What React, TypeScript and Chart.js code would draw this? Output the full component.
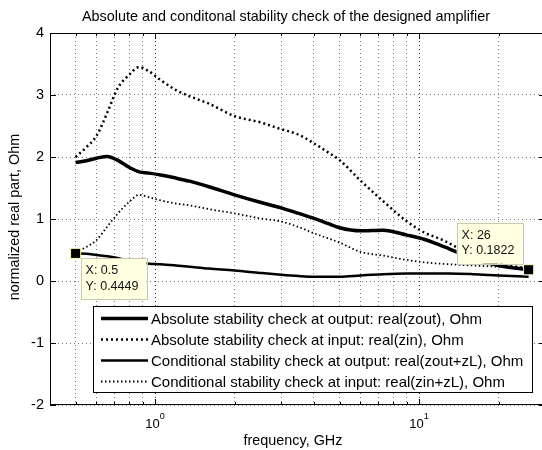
import React, { useEffect, useRef } from "react";
import { Chart, registerables } from "chart.js";

Chart.register(...registerables);

const FONT = '"Liberation Sans", Arial, Helvetica, sans-serif';

const titleText = "Absolute and conditonal stability check of the designed amplifier";
const xLabel = "frequency, GHz";
const yLabel = "normalized real part, Ohm";

const seriesLabels = [
  "Absolute stability check at output: real(zout), Ohm",
  "Absolute stability check at input: real(zin), Ohm",
  "Conditional stability check at output: real(zout+zL), Ohm",
  "Conditional stability check at input: real(zin+zL), Ohm",
];

// frequency in GHz
const frequencies = [0.5, 0.55, 0.6, 0.66, 0.72, 0.8, 0.87, 0.95, 1.05, 1.2, 1.35, 1.6, 2, 2.5, 3, 3.5, 4, 4.5, 5, 6, 7.3, 9, 10.5, 12, 13, 16, 20, 26];

const absOutput = [1.91, 1.94, 1.98, 2.01, 1.95, 1.83, 1.76, 1.74, 1.71, 1.66, 1.61, 1.52, 1.39, 1.27, 1.18, 1.09, 1.01, 0.93, 0.86, 0.81, 0.82, 0.74, 0.67, 0.58, 0.52, 0.36, 0.25, 0.1822];
const absInput = [2.0, 2.16, 2.34, 2.72, 3.1, 3.33, 3.45, 3.38, 3.24, 3.08, 2.98, 2.86, 2.66, 2.56, 2.45, 2.36, 2.22, 2.08, 1.95, 1.62, 1.29, 0.96, 0.78, 0.68, 0.61, 0.4, 0.28, 0.2];
const condOutput = [0.4449, 0.44, 0.42, 0.4, 0.37, 0.32, 0.3, 0.28, 0.27, 0.25, 0.23, 0.2, 0.17, 0.13, 0.1, 0.08, 0.07, 0.07, 0.07, 0.09, 0.11, 0.12, 0.12, 0.12, 0.12, 0.11, 0.09, 0.07];
const condInput = [0.46, 0.55, 0.66, 0.88, 1.08, 1.28, 1.39, 1.35, 1.3, 1.25, 1.22, 1.16, 1.09, 1.01, 0.96, 0.87, 0.77, 0.69, 0.62, 0.47, 0.41, 0.34, 0.3, 0.28, 0.27, 0.25, 0.23, 0.21];

const xGridTicks = [0.5, 0.6, 0.7, 0.8, 0.9, 1, 2, 3, 4, 5, 6, 7, 8, 9, 10, 20];
const xDecadeTicks = [1, 10];
const xDecadeExponents = ["0", "1"];
const yTicks = [-2, -1, 0, 1, 2, 3, 4];

const tipX = [0.5, 26];
const tipY = [0.4449, 0.1822];
const tipXText = ["X: 0.5", "X: 26"];
const tipYText = ["Y: 0.4449", "Y: 0.1822"];

const seriesValues = [absOutput, absInput, condOutput, condInput];
const seriesWidths = [3.5, 2.5, 2.5, 1.8];
const seriesDashes: number[][] = [[], [2, 3], [], [1.5, 2.5]];

const overlayPlugin = {
  id: "overlay",
  afterDraw(chart: any) {
    const { ctx, chartArea: ca, scales } = chart;
    const xs = scales.x;
    const ys = scales.y;
    ctx.save();

    // axes box
    ctx.strokeStyle = "#000";
    ctx.lineWidth = 1;
    ctx.setLineDash([]);
    ctx.strokeRect(ca.left + 0.5, ca.top + 0.5, ca.right - ca.left - 1, ca.bottom - ca.top - 1);

    // inner tick marks
    ctx.beginPath();
    for (const v of xGridTicks) {
      const px = Math.round(xs.getPixelForValue(v)) + 0.5;
      const len = xDecadeTicks.includes(v) ? 6 : 3;
      ctx.moveTo(px, ca.bottom);
      ctx.lineTo(px, ca.bottom - len);
      ctx.moveTo(px, ca.top);
      ctx.lineTo(px, ca.top + len);
    }
    for (const v of yTicks) {
      const py = Math.round(ys.getPixelForValue(v)) + 0.5;
      ctx.moveTo(ca.left, py);
      ctx.lineTo(ca.left + 6, py);
      ctx.moveTo(ca.right, py);
      ctx.lineTo(ca.right - 6, py);
    }
    ctx.stroke();

    ctx.fillStyle = "#000";

    // x decade labels 10^n
    xDecadeTicks.forEach((v, i) => {
      const px = xs.getPixelForValue(v);
      ctx.font = `13px ${FONT}`;
      const w10 = ctx.measureText("10").width;
      ctx.font = `9px ${FONT}`;
      const we = ctx.measureText(xDecadeExponents[i]).width;
      const start = px - (w10 + we) / 2;
      ctx.textAlign = "left";
      ctx.textBaseline = "alphabetic";
      ctx.font = `13px ${FONT}`;
      ctx.fillText("10", start, ca.bottom + 23);
      ctx.font = `9px ${FONT}`;
      ctx.fillText(xDecadeExponents[i], start + w10, ca.bottom + 14);
    });

    // title
    ctx.font = `14.4px ${FONT}`;
    ctx.textAlign = "center";
    ctx.textBaseline = "alphabetic";
    ctx.fillText(titleText, 286, 21);

    // x label
    ctx.font = `14.4px ${FONT}`;
    ctx.fillText(xLabel, 293, 445);

    // y label
    ctx.save();
    ctx.translate(19, (ca.top + ca.bottom) / 2 - 2);
    ctx.rotate(-Math.PI / 2);
    ctx.textBaseline = "alphabetic";
    ctx.fillText(yLabel, 0, 0);
    ctx.restore();

    // legend
    const lx = 93, ly = 306, lw = 439, lh = 86;
    ctx.fillStyle = "#fff";
    ctx.fillRect(lx, ly, lw, lh);
    ctx.strokeStyle = "#000";
    ctx.lineWidth = 1;
    ctx.setLineDash([]);
    ctx.strokeRect(lx + 0.5, ly + 0.5, lw, lh);
    chart.data.datasets.forEach((ds: any, i: number) => {
      const cy = ly + 12.5 + i * 21;
      ctx.save();
      ctx.strokeStyle = "#000";
      ctx.lineWidth = ds.borderWidth;
      ctx.setLineDash(ds.borderDash || []);
      ctx.beginPath();
      ctx.moveTo(lx + 8, cy);
      ctx.lineTo(lx + 55, cy);
      ctx.stroke();
      ctx.restore();
      ctx.fillStyle = "#000";
      ctx.font = `15px ${FONT}`;
      ctx.textAlign = "left";
      ctx.textBaseline = "middle";
      ctx.fillText(ds.label, lx + 58, cy + 1);
    });

    // data tips
    tipX.forEach((xv, i) => {
      const mx = xs.getPixelForValue(xv);
      const my = ys.getPixelForValue(tipY[i]);
      const bw = 66, bh = 41;
      const bx = i === 0 ? mx + 5 : mx - 6 - bw;
      const by = i === 0 ? my + 5 : my - 6 - bh;
      ctx.fillStyle = "#ffffe1";
      ctx.fillRect(bx, by, bw, bh);
      ctx.strokeStyle = "#c9c9b0";
      ctx.lineWidth = 1;
      ctx.strokeRect(Math.round(bx) + 0.5, Math.round(by) + 0.5, bw, bh);
      ctx.fillStyle = "#111";
      ctx.font = `12.5px ${FONT}`;
      ctx.textAlign = "left";
      ctx.textBaseline = "middle";
      ctx.fillText(tipXText[i], bx + 5, by + 12.5);
      ctx.fillText(tipYText[i], bx + 5, by + 28);
      // marker
      ctx.fillStyle = "#f4f0b0";
      ctx.fillRect(mx - 5.5, my - 5.5, 11, 11);
      ctx.fillStyle = "#000";
      ctx.fillRect(mx - 4.5, my - 4.5, 9, 9);
    });

    ctx.restore();
  },
};

export default function App() {
  const ref = useRef<HTMLCanvasElement | null>(null);

  useEffect(() => {
    if (!ref.current) return;
    const datasets = seriesValues.map((vals, i) => ({
      label: seriesLabels[i],
      data: frequencies.map((f, j) => ({ x: f, y: vals[j] })),
      borderColor: "#000",
      backgroundColor: "#000",
      borderWidth: seriesWidths[i],
      borderDash: seriesDashes[i],
      pointRadius: 0,
      fill: false,
      cubicInterpolationMode: "monotone" as const,
    }));

    const gridColor = (c: any) =>
      c.tick && xDecadeTicks.includes(c.tick.value) ? "#333" : "#7a7a7a";

    const chart = new Chart(ref.current, {
      type: "line",
      data: { datasets },
      options: {
        animation: false,
        responsive: false,
        devicePixelRatio: 1,
        layout: { padding: { top: 33, right: 15, left: 0, bottom: 0 } },
        plugins: {
          legend: { display: false },
          title: { display: false },
          tooltip: { enabled: false },
        },
        scales: {
          x: {
            type: "logarithmic",
            min: 0.4,
            max: 30,
            position: "bottom",
            afterBuildTicks: (s: any) => {
              s.ticks = xGridTicks.map((v) => ({ value: v }));
            },
            afterFit: (s: any) => {
              s.height = 45;
            },
            ticks: { display: false },
            grid: { color: gridColor, lineWidth: 1, drawTicks: false },
            border: { display: false, dash: [1, 3] },
          },
          y: {
            type: "linear",
            min: -2,
            max: 4,
            afterBuildTicks: (s: any) => {
              s.ticks = yTicks.map((v) => ({ value: v }));
            },
            afterFit: (s: any) => {
              s.width = 50;
            },
            ticks: {
              color: "#000",
              padding: 6,
              font: { family: FONT, size: 14.5 },
              callback: (v: any) => String(v),
            },
            grid: { color: "#7a7a7a", lineWidth: 1, drawTicks: false },
            border: { display: false, dash: [1, 3] },
          },
        },
      },
      plugins: [overlayPlugin],
    });
    return () => chart.destroy();
  }, []);

  return (
    <div
      style={{
        position: "fixed",
        left: 0,
        top: 0,
        width: 542,
        height: 450,
        overflow: "hidden",
        background: "#fff",
      }}
    >
      <canvas ref={ref} width={560} height={450} style={{ display: "block", width: 560, height: 450 }} />
    </div>
  );
}
